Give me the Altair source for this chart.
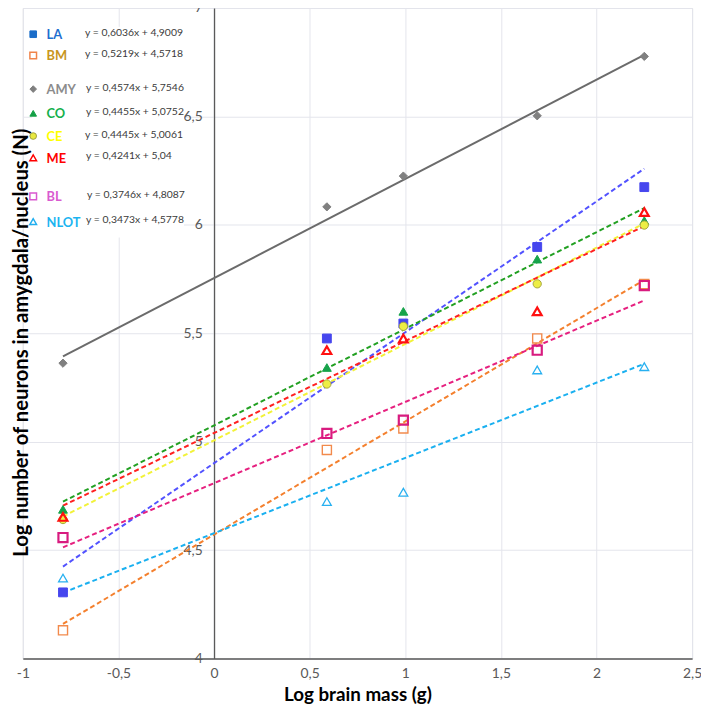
import altair as alt
import pandas as pd

# ---------------- data ----------------
X_VALUES = [-0.79, 0.59, 0.99, 1.69, 2.25]
SERIES = ["LA", "BM", "AMY", "CO", "CE", "ME", "BL", "NLOT"]
LA = [4.305, 5.476, 5.545, 5.898, 6.174]
BM = [4.130, 4.962, 5.061, 5.476, 5.727]
AMY = [5.362, 6.083, 6.225, 6.503, 6.777]
CO = [4.688, 5.342, 5.601, 5.842, 6.020]
CE = [4.641, 5.266, 5.532, 5.728, 5.999]
ME = [4.653, 5.422, 5.476, 5.601, 6.059]
BL = [4.558, 5.038, 5.099, 5.422, 5.720]
NLOT = [4.371, 4.724, 4.767, 5.331, 5.346]
SLOPES = [0.6036, 0.5219, 0.4574, 0.4455, 0.4445, 0.4241, 0.3746, 0.3473]
INTERCEPTS = [4.9009, 4.5718, 5.7546, 5.0752, 5.0061, 5.04, 4.8087, 4.5778]
X_TICKS = [-1, -0.5, 0, 0.5, 1, 1.5, 2, 2.5]
Y_TICKS = [4, 4.5, 5, 5.5, 6, 6.5, 7]

VALUES = {"LA": LA, "BM": BM, "AMY": AMY, "CO": CO, "CE": CE,
          "ME": ME, "BL": BL, "NLOT": NLOT}

# ---------------- styles / layout ----------------
STYLE = {
    "LA":   dict(shape="square", filled=True, fill="#4646EE", stroke="#4646EE", size=80, sw=1,
                 line="#5252FF", dash=[5, 3], leg_fill="#1A6CC8", leg_stroke="#1A6CC8", leg_filled=True,
                 leg_shape="square", name_color="#1F6FD0", row=26.5, eq_x=63),
    "BM":   dict(shape="square", filled=False, fill="transparent", stroke="#F28A4C", size=85, sw=1.4,
                 line="#F4802E", dash=[5, 3], leg_fill="transparent", leg_stroke="#F0844A", leg_filled=False,
                 leg_shape="square", name_color="#C8961E", row=48, eq_x=63),
    "AMY":  dict(shape="diamond", filled=True, fill="#808080", stroke="#808080", size=70, sw=1,
                 line="#6B6B6B", dash=None, leg_fill="#7F7F7F", leg_stroke="#7F7F7F", leg_filled=True,
                 leg_shape="diamond", name_color="#8C8C8C", row=82, eq_x=64),
    "CO":   dict(shape="triangle-up", filled=True, fill="#16A34A", stroke="#16A34A", size=80, sw=1,
                 line="#22A022", dash=[5, 3], leg_fill="#14A046", leg_stroke="#14A046", leg_filled=True,
                 leg_shape="triangle-up", name_color="#14B04C", row=106.5, eq_x=64),
    "CE":   dict(shape="circle", filled=True, fill="#EDEE44", stroke="#A6A640", size=70, sw=1,
                 line="#F2F238", dash=[5, 3], leg_fill="#E8E840", leg_stroke="#A0A040", leg_filled=True,
                 leg_shape="circle", name_color="#FFFF00", row=129.5, eq_x=63),
    "ME":   dict(shape="triangle-up", filled=False, fill="transparent", stroke="#FF1010", size=80, sw=2.2,
                 line="#FF2020", dash=[5, 3], leg_fill="transparent", leg_stroke="#FF0000", leg_filled=False,
                 leg_shape="triangle-up", name_color="#FF0000", row=151.5, eq_x=64),
    "BL":   dict(shape="square", filled=False, fill="transparent", stroke="#D81B7F", size=85, sw=2.2,
                 line="#E6207F", dash=[5, 3], leg_fill="transparent", leg_stroke="#D958D0", leg_filled=False,
                 leg_shape="square", name_color="#D95BD0", row=190.5, eq_x=65),
    "NLOT": dict(shape="triangle-up", filled=False, fill="transparent", stroke="#28B0F0", size=80, sw=1.3,
                 line="#1AB0F0", dash=[5, 3], leg_fill="transparent", leg_stroke="#20AEEF", leg_filled=False,
                 leg_shape="triangle-up", name_color="#1CB4F0", row=216, eq_x=64),
}

W, H = 677, 658
X_DOMAIN = [-1, 2.5]
Y_DOMAIN = [4, 7]
Y_AXIS_POS = W * (0 - X_DOMAIN[0]) / (X_DOMAIN[1] - X_DOMAIN[0])

FONT = "Lato"
LABEL_EXPR = "replace(toString(datum.value), '.', ',')"
GRID = "#E4E5EC"
AXIS_LINE = "#5A5A5A"

x_axis = alt.Axis(values=X_TICKS, labelExpr=LABEL_EXPR, grid=True, gridColor=GRID, gridWidth=1,
                  domainColor=AXIS_LINE, domainWidth=1.3, ticks=False,
                  labelFont=FONT, labelFontSize=14, labelColor="#595959", labelPadding=8,
                  labelOverlap=False, labelFlush=False,
                  title="Log brain mass (g)", titleFont=FONT, titleFontSize=19, titleFontWeight="bold",
                  titleColor="#000000", titleX=W / 2, titleY=42, titleBaseline="alphabetic",
                  titleAlign="center")
y_axis = alt.Axis(values=Y_TICKS, labelExpr=LABEL_EXPR, grid=True, gridColor=GRID, gridWidth=1,
                  domainColor=AXIS_LINE, domainWidth=1.3, ticks=False, offset=-Y_AXIS_POS,
                  labelFont=FONT, labelFontSize=14, labelColor="#595959", labelPadding=12,
                  labelOverlap=False, labelFlush=False,
                  title="Log number of neurons in amygdala/nucleus (N)", titleFont=FONT,
                  titleFontSize=20.5, titleFontWeight="bold", titleColor="#000000",
                  titleAngle=270, titleX=-Y_AXIS_POS - 1, titleY=338, titleAlign="center",
                  titleBaseline="middle")

x_scale = alt.Scale(domain=X_DOMAIN, nice=False, zero=False)
y_scale = alt.Scale(domain=Y_DOMAIN, nice=False, zero=False)


def xy():
    return dict(x=alt.X("x:Q", scale=x_scale, axis=x_axis),
                y=alt.Y("y:Q", scale=y_scale, axis=y_axis))


layers = []

# white box behind the legend (layout only)
box_df = pd.DataFrame({"k": [0]})
layers.append(alt.Chart(box_df).mark_rect(fill="white").encode(
    x=alt.value(9.5), x2=alt.value(163), y=alt.value(19), y2=alt.value(232)))

x_min, x_max = min(X_VALUES), max(X_VALUES)

# trend lines (from the regression equations)
for name, m, b in zip(SERIES, SLOPES, INTERCEPTS):
    st = STYLE[name]
    ldf = pd.DataFrame({"x": [x_min, x_max], "y": [m * x_min + b, m * x_max + b]})
    kw = dict(color=st["line"], strokeWidth=2)
    if st["dash"]:
        kw["strokeDash"] = st["dash"]
    layers.append(alt.Chart(ldf).mark_line(**kw).encode(**xy()))

# points
for name in SERIES:
    st = STYLE[name]
    pdf = pd.DataFrame({"x": X_VALUES, "y": VALUES[name]})
    layers.append(alt.Chart(pdf).mark_point(
        shape=st["shape"], filled=st["filled"], fill=st["fill"], stroke=st["stroke"],
        size=st["size"], strokeWidth=st["sw"], opacity=1).encode(**xy()))

# legend with equations
for name, m, b in zip(SERIES, SLOPES, INTERCEPTS):
    st = STYLE[name]
    eq = ("y = " + str(m) + "x + " + str(b)).replace(".", ",")
    tdf = pd.DataFrame({"name": [name], "eq": [eq]})
    layers.append(alt.Chart(tdf).mark_point(
        shape=st["leg_shape"], filled=st["leg_filled"], fill=st["leg_fill"], stroke=st["leg_stroke"],
        size=45, strokeWidth=1.5 if not st["leg_filled"] else 1, opacity=1).encode(
        x=alt.value(10.5), y=alt.value(st["row"])))
    layers.append(alt.Chart(tdf).mark_text(
        align="left", baseline="middle", font=FONT, fontSize=13, fontWeight="bold",
        color=st["name_color"]).encode(
        x=alt.value(24), y=alt.value(st["row"] + 1), text="name:N"))
    layers.append(alt.Chart(tdf).mark_text(
        align="left", baseline="middle", font=FONT, fontSize=10.5,
        color="#3A3A3A").encode(
        x=alt.value(st["eq_x"]), y=alt.value(st["row"] - 1.5), text="eq:N"))

chart = alt.layer(*layers).properties(
    width=W, height=H,
    autosize=alt.AutoSizeParams(type="none"),
    padding={"left": 15, "top": -4, "right": 9, "bottom": 43},
).configure_view(stroke=None).configure(background="white")

chart.save("out.html", embed_options={"renderer": "svg", "actions": False})
